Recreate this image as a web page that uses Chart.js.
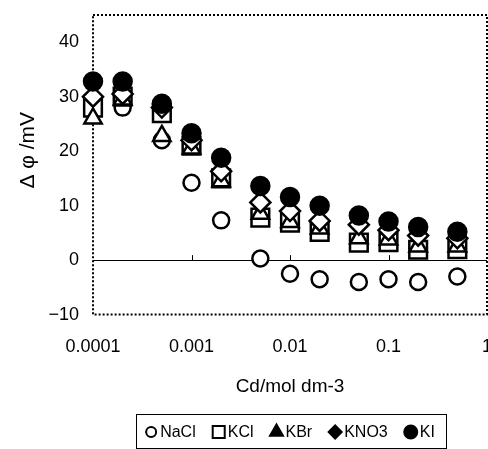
<!DOCTYPE html>
<html><head><meta charset="utf-8">
<script src="https://cdn.jsdelivr.net/npm/chart.js@4.4.1/dist/chart.umd.min.js"></script>
<style>html,body{margin:0;padding:0;background:#fff;overflow:hidden}#wrap{width:502px;height:449px;position:relative}</style>
</head><body><div id="wrap"><canvas id="c"></canvas></div>
<script>
const concentrations = [0.0001, 0.0002, 0.0005, 0.001, 0.002, 0.005, 0.01, 0.02, 0.05, 0.1, 0.2, 0.5];
const seriesNames = ['NaCl', 'KCl', 'KBr', 'KNO3', 'KI'];
const NaCl = [27.5, 28, 22, 14.2, 7.3, 0.3, -2.5, -3.5, -4, -3.5, -4, -3];
const KCl  = [28, 30, 27, 21, 15, 7.8, 6.9, 5.2, 3.2, 3.3, 1.9, 2];
const KBr  = [26, 29.5, 22.8, 20.5, 14.5, 8.5, 7, 5.8, 4, 3.8, 2.5, 2.5];
const KNO3 = [30, 30.5, 28, 22, 16.3, 10.6, 9, 7.2, 6.5, 5.5, 4.5, 4];
const KI   = [32.8, 32.8, 28.7, 23.3, 18.8, 13.6, 11.6, 10, 8.2, 7.1, 6.1, 5.2];
const xTickValues = [0.0001, 0.001, 0.01, 0.1, 1];
const xTickLabels = ['0.0001', '0.001', '0.01', '0.1', '1'];
const yTickValues = [-10, 0, 10, 20, 30, 40];
const yTickLabels = ['\u221210', '0', '10', '20', '30', '40'];

const seriesValues = [NaCl, KCl, KBr, KNO3, KI];
const styles = [
  {pointStyle: 'circle', radius: 8, fill: '#fff'},
  {pointStyle: 'rect', radius: 12.5, fill: '#fff'},
  {pointStyle: 'triangle', radius: 10, fill: '#fff'},
  {pointStyle: 'rectRot', radius: 10, fill: '#fff'},
  {pointStyle: 'circle', radius: 9, fill: '#000'}
];
const legendMarks = [
  {pointStyle: 'circle', radius: 5, fill: '#fff'},
  {pointStyle: 'rect', radius: 8.5, fill: '#fff'},
  {pointStyle: 'triangle', radius: 7.5, fill: '#000'},
  {pointStyle: 'rectRot', radius: 6.5, fill: '#000'},
  {pointStyle: 'circle', radius: 6.5, fill: '#000'}
];
const FONT = '"Liberation Sans", Arial, sans-serif';

const datasets = seriesNames.map((name, i) => ({
  label: name,
  data: concentrations.map((c, j) => ({x: c, y: seriesValues[i][j]})),
  pointStyle: styles[i].pointStyle,
  pointRadius: styles[i].radius,
  pointBackgroundColor: styles[i].fill,
  pointBorderColor: '#000',
  pointBorderWidth: 2.5,
  backgroundColor: styles[i].fill,
  borderColor: '#000',
  showLine: false,
  clip: false,
  order: seriesNames.length - 1 - i
}));

const framePlugin = {
  id: 'frame',
  beforeDatasetsDraw(chart) {
    const {ctx, chartArea: a, scales} = chart;
    ctx.save();
    const y0 = scales.y.getPixelForValue(0);
    ctx.strokeStyle = '#000';
    ctx.lineWidth = 1;
    xTickValues.slice(1, -1).forEach(v => {
      const px = Math.round(scales.x.getPixelForValue(v)) + 0.5;
      ctx.beginPath(); ctx.moveTo(px, y0); ctx.lineTo(px, y0 - 5); ctx.stroke();
    });
    ctx.lineWidth = 2;
    ctx.setLineDash([2, 2]);
    ctx.strokeRect(a.left, a.top, a.right - a.left, a.bottom - a.top);
    ctx.restore();
  },
  afterDraw(chart) {
    const {ctx, chartArea: a} = chart;
    const markW = 12, markGap = 3, itemGap = 17;
    ctx.save();
    ctx.font = '16px ' + FONT;
    const widths = seriesNames.map(n => markW + markGap + ctx.measureText(n).width);
    const total = widths.reduce((s, w) => s + w, 0) + itemGap * (seriesNames.length - 1);
    const cy = chart.height - 17;
    let x = (a.left + a.right) / 2 - total / 2;
    const x0 = x;
    ctx.strokeStyle = '#000';
    ctx.lineWidth = 1;
    ctx.strokeRect(Math.round(x0 - 9) + 0.5, Math.round(cy - 18) + 0.5, Math.round(total + 20), 34);
    ctx.textBaseline = 'middle';
    ctx.fillStyle = '#000';
    seriesNames.forEach((n, i) => {
      const m = legendMarks[i];
      ctx.save();
      ctx.fillStyle = m.fill;
      ctx.strokeStyle = '#000';
      ctx.lineWidth = 2;
      Chart.helpers.drawPoint(ctx, {pointStyle: m.pointStyle, radius: m.radius, borderWidth: 2}, x + markW / 2, cy);
      ctx.restore();
      ctx.fillStyle = '#000';
      ctx.fillText(n, x + markW + markGap, cy + 1);
      x += widths[i] + itemGap;
    });
    ctx.restore();
  }
};

new Chart(document.getElementById('c'), {
  type: 'scatter',
  data: {datasets},
  plugins: [framePlugin],
  options: {
    responsive: true,
    maintainAspectRatio: false,
    animation: false,
    devicePixelRatio: 1,
    layout: {padding: {top: 13, right: 2, left: 0, bottom: 51}},
    plugins: {
      tooltip: {enabled: false},
      legend: {display: false}
    },
    scales: {
      x: {
        type: 'logarithmic',
        min: 0.0001,
        max: 1,
        afterBuildTicks(axis) { axis.ticks = xTickValues.map(v => ({value: v})); },
        afterFit(axis) { axis.paddingLeft = 0; axis.paddingRight = 0; },
        ticks: {
          autoSkip: false, maxRotation: 0, color: '#000', padding: 14,
          font: {family: FONT, size: 18},
          callback(value) { const k = xTickValues.indexOf(value); return k >= 0 ? xTickLabels[k] : ''; }
        },
        grid: {display: false},
        border: {display: false},
        title: {display: true, text: 'Cd/mol dm-3', color: '#000', font: {family: FONT, size: 19}, padding: {top: 3, bottom: 0}}
      },
      y: {
        type: 'linear',
        min: -10,
        max: 45,
        afterBuildTicks(axis) { axis.ticks = yTickValues.map(v => ({value: v})); },
        afterFit(axis) { axis.width = 93; axis.paddingTop = 0; axis.paddingBottom = 0; },
        ticks: {
          color: '#000', padding: 14, font: {family: FONT, size: 18},
          callback(value) { const k = yTickValues.indexOf(value); return k >= 0 ? yTickLabels[k] : ''; }
        },
        grid: {
          drawTicks: false,
          lineWidth: 1,
          color: (c) => (c.tick && c.tick.value === 0) ? '#000' : 'rgba(0,0,0,0)'
        },
        border: {display: false},
        title: {display: true, text: '     Δ φ /mV', color: '#000', font: {family: FONT, size: 21}, padding: {top: 16, bottom: 0}}
      }
    }
  }
});
</script>
</body></html>
